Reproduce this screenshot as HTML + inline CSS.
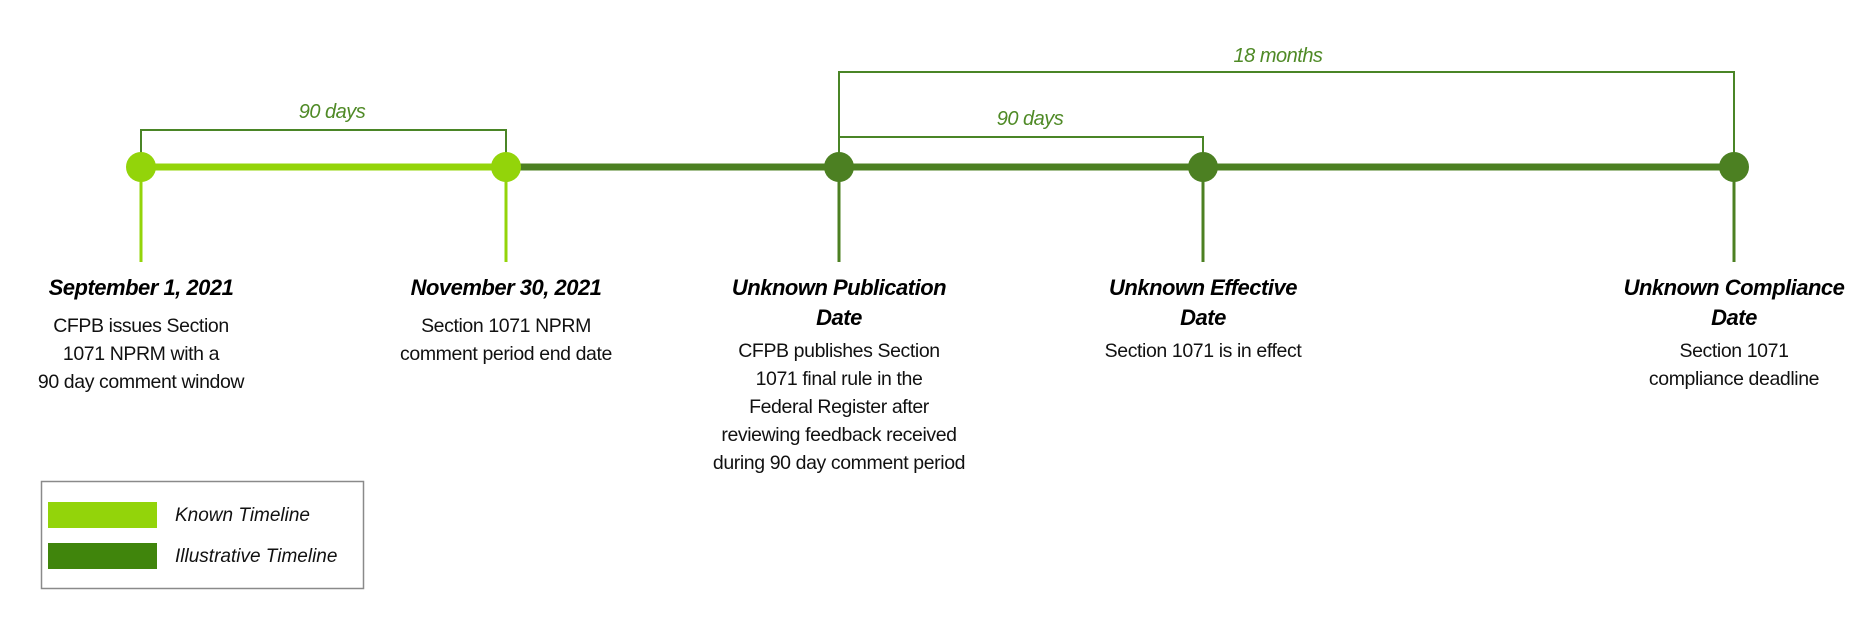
<!DOCTYPE html>
<html><head><meta charset="utf-8"><style>
html,body{margin:0;padding:0;background:#fff;}
svg{display:block;}
text{font-family:"Liberation Sans",sans-serif;}
.t{font-weight:bold;font-style:italic;font-size:22px;fill:#000;letter-spacing:-0.5px;}
.d{font-size:19.5px;fill:#111;letter-spacing:-0.4px;}
.g{font-style:italic;font-size:20px;fill:#4f8a26;letter-spacing:-0.5px;}
.l{font-style:italic;font-size:19px;fill:#111;}
</style></head><body>
<svg width="1876" height="631" viewBox="0 0 1876 631" xmlns="http://www.w3.org/2000/svg">
<!-- brackets -->
<g fill="none" stroke="#4a8526" stroke-width="2">
<polyline points="141,167 141,130 506,130 506,167"/>
<polyline points="839,167 839,137 1203,137 1203,167"/>
<polyline points="839,167 839,72 1734,72 1734,167"/>
</g>
<text class="g" x="332" y="118" text-anchor="middle">90 days</text>
<text class="g" x="1030" y="125" text-anchor="middle">90 days</text>
<text class="g" x="1278" y="62" text-anchor="middle">18 months</text>
<!-- main line -->
<line x1="141" y1="167" x2="506" y2="167" stroke="#93d40a" stroke-width="7"/>
<line x1="506" y1="167" x2="1734" y2="167" stroke="#4c8022" stroke-width="7"/>
<!-- stems -->
<g stroke-width="3">
<line x1="141" y1="167" x2="141" y2="262" stroke="#93d40a"/>
<line x1="506" y1="167" x2="506" y2="262" stroke="#93d40a"/>
<line x1="839" y1="167" x2="839" y2="262" stroke="#4c8022"/>
<line x1="1203" y1="167" x2="1203" y2="262" stroke="#4c8022"/>
<line x1="1734" y1="167" x2="1734" y2="262" stroke="#4c8022"/>
</g>
<circle cx="141" cy="167" r="15" fill="#93d40a"/>
<circle cx="506" cy="167" r="15" fill="#93d40a"/>
<circle cx="839" cy="167" r="15" fill="#4c8022"/>
<circle cx="1203" cy="167" r="15" fill="#4c8022"/>
<circle cx="1734" cy="167" r="15" fill="#4c8022"/>
<!-- labels -->
<text class="t" x="141" y="295" text-anchor="middle">September 1, 2021</text>
<text class="d" x="141" y="332" text-anchor="middle">CFPB issues Section</text>
<text class="d" x="141" y="360" text-anchor="middle">1071 NPRM with a</text>
<text class="d" x="141" y="388" text-anchor="middle">90 day comment window</text>

<text class="t" x="506" y="295" text-anchor="middle">November 30, 2021</text>
<text class="d" x="506" y="332" text-anchor="middle">Section 1071 NPRM</text>
<text class="d" x="506" y="360" text-anchor="middle">comment period end date</text>

<text class="t" x="839" y="295" text-anchor="middle">Unknown Publication</text>
<text class="t" x="839" y="325" text-anchor="middle">Date</text>
<text class="d" x="839" y="357" text-anchor="middle">CFPB publishes Section</text>
<text class="d" x="839" y="385" text-anchor="middle">1071 final rule in the</text>
<text class="d" x="839" y="413" text-anchor="middle">Federal Register after</text>
<text class="d" x="839" y="441" text-anchor="middle">reviewing feedback received</text>
<text class="d" x="839" y="469" text-anchor="middle">during 90 day comment period</text>

<text class="t" x="1203" y="295" text-anchor="middle">Unknown Effective</text>
<text class="t" x="1203" y="325" text-anchor="middle">Date</text>
<text class="d" x="1203" y="357" text-anchor="middle">Section 1071 is in effect</text>

<text class="t" x="1734" y="295" text-anchor="middle">Unknown Compliance</text>
<text class="t" x="1734" y="325" text-anchor="middle">Date</text>
<text class="d" x="1734" y="357" text-anchor="middle">Section 1071</text>
<text class="d" x="1734" y="385" text-anchor="middle">compliance deadline</text>
<!-- legend -->
<rect x="41.5" y="481.5" width="322" height="107" fill="#fff" stroke="#8a8a8a" stroke-width="1.5"/>
<rect x="48" y="502" width="109" height="26" fill="#93d40a"/>
<rect x="48" y="543" width="109" height="26" fill="#40850c"/>
<text class="l" x="175" y="521">Known Timeline</text>
<text class="l" x="175" y="562">Illustrative Timeline</text>
</svg>
</body></html>
